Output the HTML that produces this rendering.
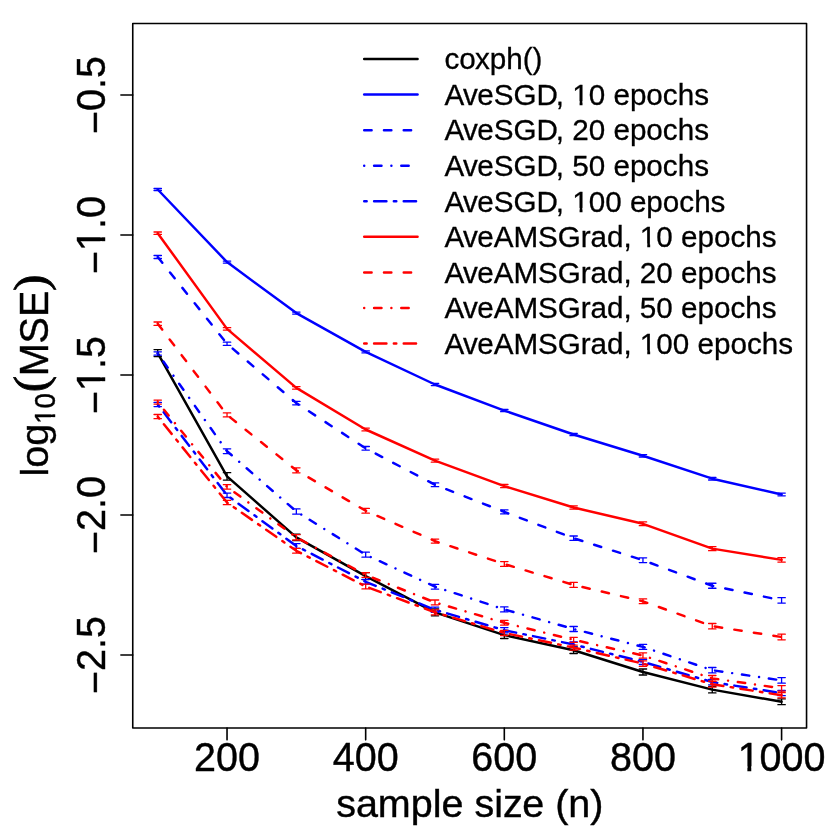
<!DOCTYPE html>
<html><head><meta charset="utf-8"><title>plot</title>
<style>
html,body{margin:0;padding:0;background:#fff;}
svg{display:block;will-change:transform;font-kerning:none;font-family:"Liberation Sans",sans-serif;}
</style></head><body>
<svg width="830" height="830" viewBox="0 0 830 830">
<rect width="830" height="830" fill="#fff"/>
<rect x="132.75" y="23.50" width="673.80" height="704.50" fill="none" stroke="#000" stroke-width="1.600" stroke-linejoin="round"/>
<path d="M227.03 728.00V739.86M365.67 728.00V739.86M504.31 728.00V739.86M642.95 728.00V739.86M781.59 728.00V739.86M132.75 95.00H120.89M132.75 235.00H120.89M132.75 375.00H120.89M132.75 515.00H120.89M132.75 655.00H120.89" stroke="#000" stroke-width="1.600" fill="none" stroke-linecap="round"/>
<g font-size="39.52" text-anchor="middle" fill="#000" stroke="#000" stroke-width="0.40">
<text transform="translate(227.03 770.90) scale(1 1.050)">200</text>
<text transform="translate(365.67 770.90) scale(1 1.050)">400</text>
<text transform="translate(504.31 770.90) scale(1 1.050)">600</text>
<text transform="translate(642.95 770.90) scale(1 1.050)">800</text>
<text transform="translate(781.59 770.90) scale(1 1.050)">1000</text>
<text transform="translate(105.00 95.00) rotate(-90) scale(1 1.050)"><tspan dy="4.05">−</tspan><tspan dy="-4.05">0.5</tspan></text>
<text transform="translate(105.00 235.00) rotate(-90) scale(1 1.050)"><tspan dy="4.05">−</tspan><tspan dy="-4.05">1.0</tspan></text>
<text transform="translate(105.00 375.00) rotate(-90) scale(1 1.050)"><tspan dy="4.05">−</tspan><tspan dy="-4.05">1.5</tspan></text>
<text transform="translate(105.00 515.00) rotate(-90) scale(1 1.050)"><tspan dy="4.05">−</tspan><tspan dy="-4.05">2.0</tspan></text>
<text transform="translate(105.00 655.00) rotate(-90) scale(1 1.050)"><tspan dy="4.05">−</tspan><tspan dy="-4.05">2.5</tspan></text>
<text x="469.8" y="816.7">sample siz<tspan dx="-0.59">e</tspan> (n)</text>
</g>
<g transform="translate(47.5 476.6) rotate(-90)" font-size="39.52" fill="#000" stroke="#000" stroke-width="0.40">
<text x="0" y="0">log</text>
<text transform="translate(52.7 7.2) scale(1 1.06)" font-size="27.66">10</text>
<text transform="translate(84.25 -1.7) scale(1.07 1)" font-size="46.1" font-family="Liberation Serif, serif" stroke-width="0.8">(</text>
<text transform="translate(100.3 0) scale(1 1.04)">MSE</text>
<text transform="translate(185.5 -1.7) scale(1.07 1)" font-size="46.1" font-family="Liberation Serif, serif" stroke-width="0.8">)</text>
</g>
<polyline points="157.71,353.10 227.03,476.40 296.35,537.40 365.67,576.10 434.99,612.30 504.31,635.10 573.63,650.20 642.95,672.00 712.27,689.60 781.59,701.80" fill="none" stroke="#000" stroke-width="2.47" stroke-linecap="round" stroke-linejoin="round"/>
<path d="M157.71 349.60V356.60M154.01 349.60H161.41M154.01 356.60H161.41M227.03 472.70V480.10M223.33 472.70H230.73M223.33 480.10H230.73M296.35 534.20V540.60M292.65 534.20H300.05M292.65 540.60H300.05M365.67 572.60V579.60M361.97 572.60H369.37M361.97 579.60H369.37M434.99 608.80V615.80M431.29 608.80H438.69M431.29 615.80H438.69M504.31 631.70V638.50M500.61 631.70H508.01M500.61 638.50H508.01M573.63 646.90V653.50M569.93 646.90H577.33M569.93 653.50H577.33M642.95 669.00V675.00M639.25 669.00H646.65M639.25 675.00H646.65M712.27 686.30V692.90M708.57 686.30H715.97M708.57 692.90H715.97M781.59 698.90V704.70M777.89 698.90H785.29M777.89 704.70H785.29" fill="none" stroke="#000" stroke-width="1.30" stroke-linecap="round"/>
<polyline points="157.71,189.50 227.03,262.10 296.35,313.10 365.67,351.90 434.99,384.50 504.31,410.60 573.63,434.50 642.95,455.80 712.27,478.70 781.59,494.45" fill="none" stroke="#00f" stroke-width="2.47" stroke-linecap="round" stroke-linejoin="round"/>
<path d="M157.71 188.50V190.50M154.01 188.50H161.41M154.01 190.50H161.41M227.03 261.10V263.10M223.33 261.10H230.73M223.33 263.10H230.73M296.35 312.10V314.10M292.65 312.10H300.05M292.65 314.10H300.05M365.67 350.90V352.90M361.97 350.90H369.37M361.97 352.90H369.37M434.99 383.40V385.60M431.29 383.40H438.69M431.29 385.60H438.69M504.31 409.50V411.70M500.61 409.50H508.01M500.61 411.70H508.01M573.63 433.30V435.70M569.93 433.30H577.33M569.93 435.70H577.33M642.95 454.60V457.00M639.25 454.60H646.65M639.25 457.00H646.65M712.27 477.40V480.00M708.57 477.40H715.97M708.57 480.00H715.97M781.59 493.05V495.85M777.89 493.05H785.29M777.89 495.85H785.29" fill="none" stroke="#00f" stroke-width="1.30" stroke-linecap="round"/>
<polyline points="157.71,257.00 227.03,343.80 296.35,403.10 365.67,448.30 434.99,484.80 504.31,511.90 573.63,538.20 642.95,560.20 712.27,585.75 781.59,600.35" fill="none" stroke="#00f" stroke-width="2.47" stroke-linecap="round" stroke-linejoin="round" stroke-dasharray="7.41 12.35"/>
<path d="M157.71 255.50V258.50M154.01 255.50H161.41M154.01 258.50H161.41M227.03 342.20V345.40M223.33 342.20H230.73M223.33 345.40H230.73M296.35 401.40V404.80M292.65 401.40H300.05M292.65 404.80H300.05M365.67 446.50V450.10M361.97 446.50H369.37M361.97 450.10H369.37M434.99 482.90V486.70M431.29 482.90H438.69M431.29 486.70H438.69M504.31 509.90V513.90M500.61 509.90H508.01M500.61 513.90H508.01M573.63 536.00V540.40M569.93 536.00H577.33M569.93 540.40H577.33M642.95 557.80V562.60M639.25 557.80H646.65M639.25 562.60H646.65M712.27 583.25V588.25M708.57 583.25H715.97M708.57 588.25H715.97M781.59 597.65V603.05M777.89 597.65H785.29M777.89 603.05H785.29" fill="none" stroke="#00f" stroke-width="1.30" stroke-linecap="round"/>
<polyline points="157.71,353.50 227.03,451.20 296.35,511.50 365.67,554.70 434.99,586.70 504.31,609.40 573.63,629.00 642.95,646.90 712.27,670.20 781.59,680.40" fill="none" stroke="#00f" stroke-width="2.47" stroke-linecap="round" stroke-linejoin="round" stroke-dasharray="0.01 9.88 7.41 9.88"/>
<path d="M157.71 351.80V355.20M154.01 351.80H161.41M154.01 355.20H161.41M227.03 448.80V453.60M223.33 448.80H230.73M223.33 453.60H230.73M296.35 508.90V514.10M292.65 508.90H300.05M292.65 514.10H300.05M365.67 552.20V557.20M361.97 552.20H369.37M361.97 557.20H369.37M434.99 584.30V589.10M431.29 584.30H438.69M431.29 589.10H438.69M504.31 606.90V611.90M500.61 606.90H508.01M500.61 611.90H508.01M573.63 626.50V631.50M569.93 626.50H577.33M569.93 631.50H577.33M642.95 644.40V649.40M639.25 644.40H646.65M639.25 649.40H646.65M712.27 667.50V672.90M708.57 667.50H715.97M708.57 672.90H715.97M781.59 677.60V683.20M777.89 677.60H785.29M777.89 683.20H785.29" fill="none" stroke="#00f" stroke-width="1.30" stroke-linecap="round"/>
<polyline points="157.71,404.50 227.03,495.30 296.35,546.00 365.67,581.80 434.99,609.80 504.31,630.20 573.63,644.50 642.95,661.90 712.27,682.10 781.59,693.10" fill="none" stroke="#00f" stroke-width="2.47" stroke-linecap="round" stroke-linejoin="round" stroke-dasharray="2.47 7.41 12.35 7.41"/>
<path d="M157.71 402.40V406.60M154.01 402.40H161.41M154.01 406.60H161.41M227.03 493.10V497.50M223.33 493.10H230.73M223.33 497.50H230.73M296.35 543.60V548.40M292.65 543.60H300.05M292.65 548.40H300.05M365.67 579.40V584.20M361.97 579.40H369.37M361.97 584.20H369.37M434.99 607.20V612.40M431.29 607.20H438.69M431.29 612.40H438.69M504.31 627.60V632.80M500.61 627.60H508.01M500.61 632.80H508.01M573.63 641.90V647.10M569.93 641.90H577.33M569.93 647.10H577.33M642.95 659.30V664.50M639.25 659.30H646.65M639.25 664.50H646.65M712.27 679.40V684.80M708.57 679.40H715.97M708.57 684.80H715.97M781.59 690.50V695.70M777.89 690.50H785.29M777.89 695.70H785.29" fill="none" stroke="#00f" stroke-width="1.30" stroke-linecap="round"/>
<polyline points="157.71,233.20 227.03,328.90 296.35,387.90 365.67,429.50 434.99,460.70 504.31,486.10 573.63,507.50 642.95,523.80 712.27,548.65 781.59,559.90" fill="none" stroke="#f00" stroke-width="2.47" stroke-linecap="round" stroke-linejoin="round"/>
<path d="M157.71 232.00V234.40M154.01 232.00H161.41M154.01 234.40H161.41M227.03 327.70V330.10M223.33 327.70H230.73M223.33 330.10H230.73M296.35 386.60V389.20M292.65 386.60H300.05M292.65 389.20H300.05M365.67 428.10V430.90M361.97 428.10H369.37M361.97 430.90H369.37M434.99 459.20V462.20M431.29 459.20H438.69M431.29 462.20H438.69M504.31 484.50V487.70M500.61 484.50H508.01M500.61 487.70H508.01M573.63 505.80V509.20M569.93 505.80H577.33M569.93 509.20H577.33M642.95 521.90V525.70M639.25 521.90H646.65M639.25 525.70H646.65M712.27 546.65V550.65M708.57 546.65H715.97M708.57 550.65H715.97M781.59 557.70V562.10M777.89 557.70H785.29M777.89 562.10H785.29" fill="none" stroke="#f00" stroke-width="1.30" stroke-linecap="round"/>
<polyline points="157.71,323.70 227.03,414.90 296.35,470.30 365.67,510.80 434.99,541.10 504.31,564.00 573.63,584.90 642.95,601.30 712.27,626.20 781.59,637.00" fill="none" stroke="#f00" stroke-width="2.47" stroke-linecap="round" stroke-linejoin="round" stroke-dasharray="7.41 12.35"/>
<path d="M157.71 322.00V325.40M154.01 322.00H161.41M154.01 325.40H161.41M227.03 412.90V416.90M223.33 412.90H230.73M223.33 416.90H230.73M296.35 467.80V472.80M292.65 467.80H300.05M292.65 472.80H300.05M365.67 508.40V513.20M361.97 508.40H369.37M361.97 513.20H369.37M434.99 539.10V543.10M431.29 539.10H438.69M431.29 543.10H438.69M504.31 561.60V566.40M500.61 561.60H508.01M500.61 566.40H508.01M573.63 582.40V587.40M569.93 582.40H577.33M569.93 587.40H577.33M642.95 598.90V603.70M639.25 598.90H646.65M639.25 603.70H646.65M712.27 623.50V628.90M708.57 623.50H715.97M708.57 628.90H715.97M781.59 634.20V639.80M777.89 634.20H785.29M777.89 639.80H785.29" fill="none" stroke="#f00" stroke-width="1.30" stroke-linecap="round"/>
<polyline points="157.71,402.10 227.03,486.90 296.35,537.35 365.67,575.00 434.99,602.40 504.31,622.80 573.63,639.80 642.95,655.50 712.27,678.40 781.59,688.30" fill="none" stroke="#f00" stroke-width="2.47" stroke-linecap="round" stroke-linejoin="round" stroke-dasharray="0.01 9.88 7.41 9.88"/>
<path d="M157.71 400.10V404.10M154.01 400.10H161.41M154.01 404.10H161.41M227.03 484.70V489.10M223.33 484.70H230.73M223.33 489.10H230.73M296.35 534.70V540.00M292.65 534.70H300.05M292.65 540.00H300.05M365.67 572.70V577.30M361.97 572.70H369.37M361.97 577.30H369.37M434.99 600.00V604.80M431.29 600.00H438.69M431.29 604.80H438.69M504.31 620.40V625.20M500.61 620.40H508.01M500.61 625.20H508.01M573.63 637.30V642.30M569.93 637.30H577.33M569.93 642.30H577.33M642.95 652.80V658.20M639.25 652.80H646.65M639.25 658.20H646.65M712.27 675.50V681.30M708.57 675.50H715.97M708.57 681.30H715.97M781.59 685.55V691.05M777.89 685.55H785.29M777.89 691.05H785.29" fill="none" stroke="#f00" stroke-width="1.30" stroke-linecap="round"/>
<polyline points="157.71,416.60 227.03,502.50 296.35,550.80 365.67,586.50 434.99,612.30 504.31,632.90 573.63,647.60 642.95,663.60 712.27,684.20 781.59,695.25" fill="none" stroke="#f00" stroke-width="2.47" stroke-linecap="round" stroke-linejoin="round" stroke-dasharray="2.47 7.41 12.35 7.41"/>
<path d="M157.71 414.50V418.70M154.01 414.50H161.41M154.01 418.70H161.41M227.03 500.30V504.70M223.33 500.30H230.73M223.33 504.70H230.73M296.35 548.40V553.20M292.65 548.40H300.05M292.65 553.20H300.05M365.67 584.10V588.90M361.97 584.10H369.37M361.97 588.90H369.37M434.99 609.80V614.80M431.29 609.80H438.69M431.29 614.80H438.69M504.31 630.30V635.50M500.61 630.30H508.01M500.61 635.50H508.01M573.63 645.10V650.10M569.93 645.10H577.33M569.93 650.10H577.33M642.95 660.90V666.30M639.25 660.90H646.65M639.25 666.30H646.65M712.27 681.20V687.20M708.57 681.20H715.97M708.57 687.20H715.97M781.59 692.70V697.80M777.89 692.70H785.29M777.89 697.80H785.29" fill="none" stroke="#f00" stroke-width="1.30" stroke-linecap="round"/>
<path d="M364.20 59.00H417.56" fill="none" stroke="#000" stroke-width="2.47" stroke-linecap="round"/>
<path d="M364.20 94.57H417.56" fill="none" stroke="#00f" stroke-width="2.47" stroke-linecap="round"/>
<path d="M364.20 130.14H417.56" fill="none" stroke="#00f" stroke-width="2.47" stroke-linecap="round" stroke-dasharray="7.41 12.35"/>
<path d="M364.20 165.71H417.56" fill="none" stroke="#00f" stroke-width="2.47" stroke-linecap="round" stroke-dasharray="0.01 9.88 7.41 9.88"/>
<path d="M364.20 201.28H417.56" fill="none" stroke="#00f" stroke-width="2.47" stroke-linecap="round" stroke-dasharray="2.47 7.41 12.35 7.41"/>
<path d="M364.20 236.85H417.56" fill="none" stroke="#f00" stroke-width="2.47" stroke-linecap="round"/>
<path d="M364.20 272.42H417.56" fill="none" stroke="#f00" stroke-width="2.47" stroke-linecap="round" stroke-dasharray="7.41 12.35"/>
<path d="M364.20 307.99H417.56" fill="none" stroke="#f00" stroke-width="2.47" stroke-linecap="round" stroke-dasharray="0.01 9.88 7.41 9.88"/>
<path d="M364.20 343.56H417.56" fill="none" stroke="#f00" stroke-width="2.47" stroke-linecap="round" stroke-dasharray="2.47 7.41 12.35 7.41"/>
<g font-size="29.64" fill="#000" stroke="#000" stroke-width="0.30">
<text x="444.5" y="69.30">co<tspan dx="-0.89">x</tspan>ph()</text>
<text x="444.5" y="104.87">A<tspan dx="-1.19">v</tspan><tspan dx="-0.74">e</tspan>SGD<tspan dx="-2.07">,</tspan> 10 epochs</text>
<text x="444.5" y="140.44">A<tspan dx="-1.19">v</tspan><tspan dx="-0.74">e</tspan>SGD<tspan dx="-2.07">,</tspan> 20 epochs</text>
<text x="444.5" y="176.01">A<tspan dx="-1.19">v</tspan><tspan dx="-0.74">e</tspan>SGD<tspan dx="-2.07">,</tspan> 50 epochs</text>
<text x="444.5" y="211.58">A<tspan dx="-1.19">v</tspan><tspan dx="-0.74">e</tspan>SGD<tspan dx="-2.07">,</tspan> 100 epochs</text>
<text x="444.5" y="247.15">A<tspan dx="-1.19">v</tspan><tspan dx="-0.74">e</tspan>AMSGr<tspan dx="-0.30">a</tspan>d, 10 epochs</text>
<text x="444.5" y="282.72">A<tspan dx="-1.19">v</tspan><tspan dx="-0.74">e</tspan>AMSGr<tspan dx="-0.30">a</tspan>d, 20 epochs</text>
<text x="444.5" y="318.29">A<tspan dx="-1.19">v</tspan><tspan dx="-0.74">e</tspan>AMSGr<tspan dx="-0.30">a</tspan>d, 50 epochs</text>
<text x="444.5" y="353.86">A<tspan dx="-1.19">v</tspan><tspan dx="-0.74">e</tspan>AMSGr<tspan dx="-0.30">a</tspan>d, 100 epochs</text>
</g>
<g fill="#fff">
<rect x="739.15" y="766.30" width="8.23" height="6.10"/><rect x="751.27" y="766.30" width="7.92" height="6.10"/>
<g transform="translate(105.00 235.00) rotate(-90)"><rect x="-14.42" y="-4.60" width="8.23" height="6.10"/><rect x="-2.30" y="-4.60" width="7.92" height="6.10"/></g>
<g transform="translate(105.00 375.00) rotate(-90)"><rect x="-14.42" y="-4.60" width="8.23" height="6.10"/><rect x="-2.30" y="-4.60" width="7.92" height="6.10"/></g>
<g transform="translate(47.5 476.6) rotate(-90)"><rect x="53.31" y="3.51" width="6.15" height="5.19"/><rect x="62.30" y="3.51" width="5.93" height="5.19"/></g>
<rect x="573.08" y="101.21" width="6.50" height="5.11"/><rect x="582.50" y="101.21" width="6.26" height="5.11"/>
<rect x="573.08" y="207.92" width="6.50" height="5.11"/><rect x="582.50" y="207.92" width="6.26" height="5.11"/>
<rect x="640.75" y="243.49" width="6.50" height="5.11"/><rect x="650.17" y="243.49" width="6.26" height="5.11"/>
<rect x="640.75" y="350.20" width="6.50" height="5.11"/><rect x="650.17" y="350.20" width="6.26" height="5.11"/>
</g>
</svg>
</body></html>
